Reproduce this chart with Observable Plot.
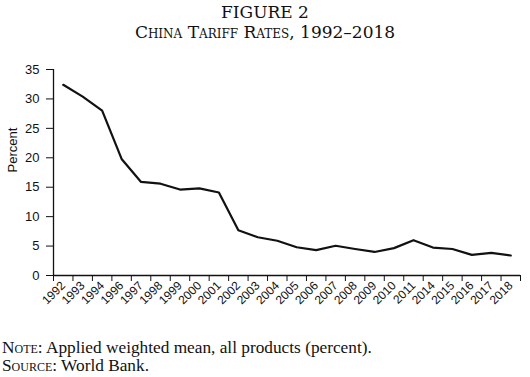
<!DOCTYPE html>
<html>
<head>
<meta charset="utf-8">
<script src="https://cdn.jsdelivr.net/npm/d3@7"></script>
<script src="https://cdn.jsdelivr.net/npm/@observablehq/plot@0.6"></script>
<style>
  html, body { margin: 0; padding: 0; background: #fff; }
  #wrap { position: relative; width: 530px; height: 377px; overflow: hidden; }
  .title { position: absolute; left: 0; width: 530px; text-align: center; font-family: "DejaVu Serif", serif; color: #111; line-height: 20px; }
  #t1 { top: 2px; font-size: 17px; }
  #t2 { top: 22px; font-size: 17px; font-variant: small-caps; }
  #chart { position: absolute; left: 0; top: 44px; }
  .cap { position: absolute; left: 2px; font-family: "Liberation Serif", serif; font-size: 17.3px; color: #111; line-height: 18px; }
  .sc { font-variant: small-caps; }
</style>
</head>
<body>
<div id="wrap">
  <div class="title" id="t1">FIGURE 2</div>
  <div class="title" id="t2">China Tariff Rates, 1992–2018</div>
  <div id="chart"></div>
  <div class="cap" style="top:339px"><span class="sc">Note</span>: Applied weighted mean, all products (percent).</div>
  <div class="cap" style="top:357px"><span class="sc">Source</span>: World Bank.</div>
</div>
<script>
const years = ["1992","1993","1994","1996","1997","1998","1999","2000","2001","2002","2003","2004","2005","2006","2007","2008","2009","2010","2011","2014","2015","2016","2017","2018"];
const tariff = [32.4, 30.4, 28.0, 19.8, 15.9, 15.6, 14.6, 14.8, 14.1, 7.7, 6.5, 5.9, 4.8, 4.3, 5.05, 4.5, 4.0, 4.65, 6.0, 4.75, 4.5, 3.5, 3.85, 3.4];
const yTicks = [0, 5, 10, 15, 20, 25, 30, 35];

const data = years.map((y, i) => ({i, year: y, value: tariff[i]}));
const centers = years.map((_, i) => i);
const bounds = d3.range(-0.5, years.length, 1);

const plot = Plot.plot({
  width: 530,
  height: 284,
  marginLeft: 53,
  marginRight: 10,
  marginTop: 25,
  marginBottom: 53,
  style: {fontFamily: "'Liberation Sans', Arial, sans-serif", fontSize: "12px", color: "#111", background: "white"},
  x: {type: "linear", domain: [-0.5, years.length - 0.5]},
  y: {domain: [0, 35]},
  marks: [
    Plot.axisY({ticks: yTicks, tickSize: 7, tickPadding: 7, fontSize: 13, label: null}),
    Plot.text(["Percent"], {frameAnchor: "left", rotate: -90, dx: -41, fontSize: 13, fill: "#111"}),
    Plot.axisX({ticks: bounds, tickSize: 6, tickFormat: () => "", label: null}),
    Plot.axisX({ticks: centers, tickSize: 0, tickPadding: 8, tickRotate: -45, tickFormat: i => years[i], fontSize: 12, label: null}),
    Plot.ruleX([-0.5], {y1: 0, y2: 35, stroke: "#111", strokeWidth: 1.3}),
    Plot.ruleY([0], {stroke: "#111", strokeWidth: 1.3}),
    Plot.line(data, {x: "i", y: "value", stroke: "#111", strokeWidth: 2.2})
  ]
});
document.getElementById("chart").appendChild(plot);
</script>
</body>
</html>
